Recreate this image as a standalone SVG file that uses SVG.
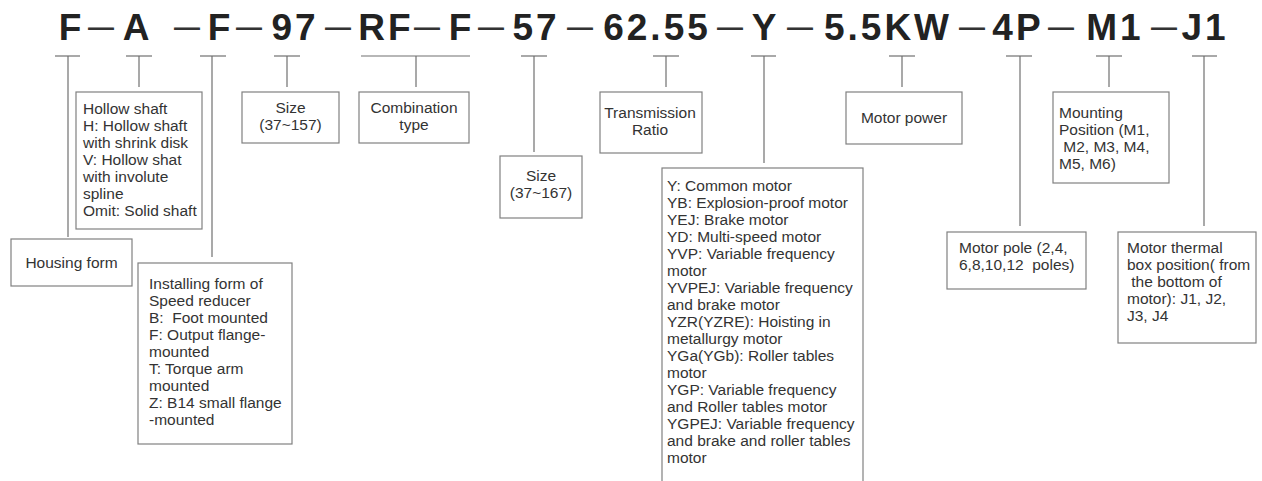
<svg xmlns="http://www.w3.org/2000/svg" width="1262" height="481" viewBox="0 0 1262 481">
<style>
.hd{font-family:"Liberation Sans",Arial,sans-serif;font-weight:bold;font-size:37px;fill:#222;text-anchor:middle;letter-spacing:3px}
.ds{font-family:"Liberation Sans",Arial,sans-serif;font-size:37px;fill:#333;text-anchor:middle}
.box{fill:#fff;stroke:#808080;stroke-width:1.2}
.t{font-family:"Liberation Sans",Arial,sans-serif;font-size:15.5px;fill:#333;white-space:pre}
.c{text-anchor:middle}
.con line{stroke:#707070;stroke-width:1.2}
</style>
<rect width="1262" height="481" fill="#fff"/>
<g id="header">
<text class="hd" x="70" y="40" style="letter-spacing:0">F</text>
<text class="ds" x="101" y="38" textLength="26" lengthAdjust="spacingAndGlyphs">–</text>
<text class="hd" x="136" y="40" style="letter-spacing:0">A</text>
<text class="ds" x="187" y="38" textLength="26" lengthAdjust="spacingAndGlyphs">–</text>
<text class="hd" x="219" y="40" style="letter-spacing:0">F</text>
<text class="ds" x="249" y="38" textLength="26" lengthAdjust="spacingAndGlyphs">–</text>
<text class="hd" x="295" y="40">97</text>
<text class="ds" x="338" y="38" textLength="26" lengthAdjust="spacingAndGlyphs">–</text>
<text class="hd" x="386" y="40">RF</text>
<text class="ds" x="427" y="38" textLength="26" lengthAdjust="spacingAndGlyphs">–</text>
<text class="hd" x="460" y="40" style="letter-spacing:0">F</text>
<text class="ds" x="491" y="38" textLength="26" lengthAdjust="spacingAndGlyphs">–</text>
<text class="hd" x="536" y="40">57</text>
<text class="ds" x="580" y="38" textLength="26" lengthAdjust="spacingAndGlyphs">–</text>
<text class="hd" x="657" y="40">62.55</text>
<text class="ds" x="730" y="38" textLength="26" lengthAdjust="spacingAndGlyphs">–</text>
<text class="hd" x="764" y="40" style="letter-spacing:0">Y</text>
<text class="ds" x="800" y="38" textLength="26" lengthAdjust="spacingAndGlyphs">–</text>
<text class="hd" x="888" y="40">5.5KW</text>
<text class="ds" x="972" y="38" textLength="26" lengthAdjust="spacingAndGlyphs">–</text>
<text class="hd" x="1018" y="40">4P</text>
<text class="ds" x="1061" y="38" textLength="26" lengthAdjust="spacingAndGlyphs">–</text>
<text class="hd" x="1115" y="40">M1</text>
<text class="ds" x="1164" y="38" textLength="26" lengthAdjust="spacingAndGlyphs">–</text>
<text class="hd" x="1205" y="40">J1</text>
</g>
<g id="connectors" class="con">
<line x1="55" y1="56" x2="80" y2="56"/><line x1="68" y1="56" x2="68" y2="237"/>
<line x1="126" y1="56" x2="152" y2="56"/><line x1="139" y1="56" x2="139" y2="87"/>
<line x1="200" y1="56" x2="226" y2="56"/><line x1="212" y1="56" x2="212" y2="257"/>
<line x1="274" y1="56" x2="300" y2="56"/><line x1="287" y1="56" x2="287" y2="87"/>
<line x1="361" y1="56" x2="470" y2="56"/><line x1="416" y1="56" x2="416" y2="87"/>
<line x1="521" y1="56" x2="547" y2="56"/><line x1="534" y1="56" x2="534" y2="152"/>
<line x1="653" y1="56" x2="679" y2="56"/><line x1="666" y1="56" x2="666" y2="87"/>
<line x1="751" y1="56" x2="776" y2="56"/><line x1="764" y1="56" x2="764" y2="163"/>
<line x1="889" y1="56" x2="915" y2="56"/><line x1="902" y1="56" x2="902" y2="87"/>
<line x1="1006" y1="56" x2="1032" y2="56"/><line x1="1020" y1="56" x2="1020" y2="226"/>
<line x1="1096" y1="56" x2="1122" y2="56"/><line x1="1109" y1="56" x2="1109" y2="87"/>
<line x1="1192" y1="56" x2="1217" y2="56"/><line x1="1204" y1="56" x2="1204" y2="226"/>
</g>
<g id="housing">
<rect class="box" x="11" y="239" width="121" height="47"/>
<text class="t c" x="71.5" y="268">Housing form</text>
</g>
<g id="hollow">
<rect class="box" x="76" y="92" width="126" height="137"/>
<text class="t" x="83" y="114">Hollow shaft</text>
<text class="t" x="83" y="131">H: Hollow shaft</text>
<text class="t" x="83" y="148">with shrink disk</text>
<text class="t" x="83" y="165">V: Hollow shat</text>
<text class="t" x="83" y="182">with involute</text>
<text class="t" x="83" y="199">spline</text>
<text class="t" x="83" y="216">Omit: Solid shaft</text>
</g>
<g id="installing">
<rect class="box" x="138" y="263" width="154" height="181"/>
<text class="t" x="149" y="289">Installing form of</text>
<text class="t" x="149" y="306">Speed reducer</text>
<text class="t" x="149" y="323">B:  Foot mounted</text>
<text class="t" x="149" y="340">F: Output flange-</text>
<text class="t" x="149" y="357">mounted</text>
<text class="t" x="149" y="374">T: Torque arm</text>
<text class="t" x="149" y="391">mounted</text>
<text class="t" x="149" y="408">Z: B14 small flange</text>
<text class="t" x="149" y="425">-mounted</text>
</g>
<g id="size157">
<rect class="box" x="242" y="92" width="97" height="51"/>
<text class="t c" x="290.5" y="113">Size</text>
<text class="t c" x="290.5" y="130">(37~157)</text>
</g>
<g id="combination">
<rect class="box" x="359" y="92" width="110" height="51"/>
<text class="t c" x="414" y="113">Combination</text>
<text class="t c" x="414" y="130">type</text>
</g>
<g id="size167">
<rect class="box" x="500" y="156" width="82" height="62"/>
<text class="t c" x="541" y="181">Size</text>
<text class="t c" x="541" y="198">(37~167)</text>
</g>
<g id="ratio">
<rect class="box" x="600" y="92" width="102" height="61"/>
<text class="t c" x="650" y="118">Transmission</text>
<text class="t c" x="650" y="135">Ratio</text>
</g>
<g id="motortype">
<rect class="box" x="662" y="168" width="201" height="340"/>
<text class="t" x="667" y="191">Y: Common motor</text>
<text class="t" x="667" y="208">YB: Explosion-proof motor</text>
<text class="t" x="667" y="225">YEJ: Brake motor</text>
<text class="t" x="667" y="242">YD: Multi-speed motor</text>
<text class="t" x="667" y="259">YVP: Variable frequency</text>
<text class="t" x="667" y="276">motor</text>
<text class="t" x="667" y="293">YVPEJ: Variable frequency</text>
<text class="t" x="667" y="310">and brake motor</text>
<text class="t" x="667" y="327">YZR(YZRE): Hoisting in</text>
<text class="t" x="667" y="344">metallurgy motor</text>
<text class="t" x="667" y="361">YGa(YGb): Roller tables</text>
<text class="t" x="667" y="378">motor</text>
<text class="t" x="667" y="395">YGP: Variable frequency</text>
<text class="t" x="667" y="412">and Roller tables motor</text>
<text class="t" x="667" y="429">YGPEJ: Variable frequency</text>
<text class="t" x="667" y="446">and brake and roller tables</text>
<text class="t" x="667" y="463">motor</text>
</g>
<g id="power">
<rect class="box" x="846" y="92" width="116" height="52"/>
<text class="t c" x="904" y="123">Motor power</text>
</g>
<g id="pole">
<rect class="box" x="947" y="232" width="139" height="57"/>
<text class="t" x="959" y="253">Motor pole (2,4,</text>
<text class="t" x="959" y="270">6,8,10,12  poles)</text>
</g>
<g id="mounting">
<rect class="box" x="1053" y="92" width="116" height="91"/>
<text class="t" x="1059" y="118">Mounting</text>
<text class="t" x="1059" y="135">Position (M1,</text>
<text class="t" x="1059" y="152"> M2, M3, M4,</text>
<text class="t" x="1059" y="169">M5, M6)</text>
</g>
<g id="thermal">
<rect class="box" x="1118" y="232" width="138" height="111"/>
<text class="t" x="1127" y="253">Motor thermal</text>
<text class="t" x="1127" y="270">box position( from</text>
<text class="t" x="1127" y="287"> the bottom of</text>
<text class="t" x="1127" y="304">motor): J1, J2,</text>
<text class="t" x="1127" y="321">J3, J4</text>
</g>
</svg>
